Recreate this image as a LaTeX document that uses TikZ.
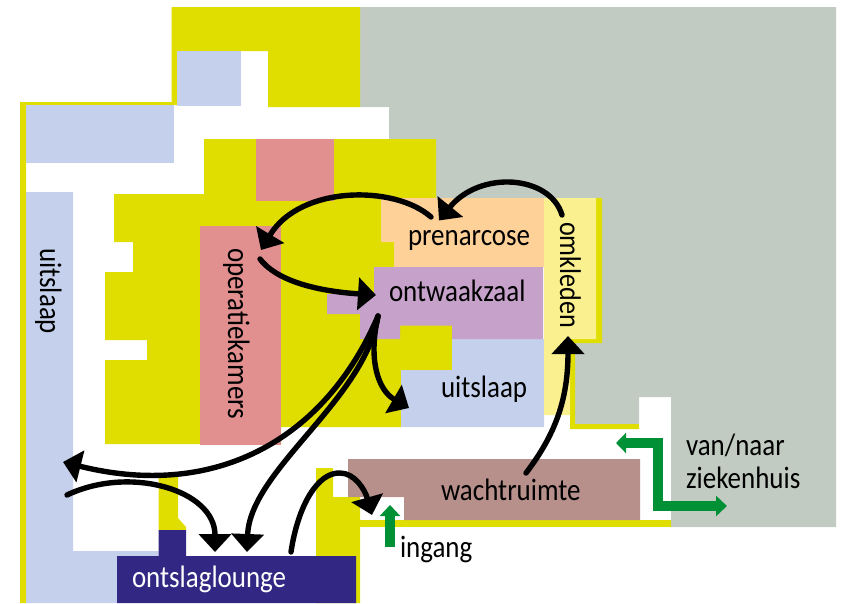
\documentclass[tikz,border=0pt]{standalone}
\usepackage{fontspec}
\setmainfont[FakeStretch=0.87]{Carlito}
\usetikzlibrary{arrows.meta}
\definecolor{yel}{HTML}{E0DE00}
\definecolor{grayz}{HTML}{C1CBC2}
\definecolor{lblue}{HTML}{C5D1EC}
\definecolor{rosered}{HTML}{E18F8F}
\definecolor{peach}{HTML}{FDD198}
\definecolor{purp}{HTML}{C6A2CB}
\definecolor{lyel}{HTML}{FAF08F}
\definecolor{brownz}{HTML}{B78F8B}
\definecolor{navyz}{HTML}{322783}
\definecolor{greenz}{HTML}{009036}
\tikzset{
  lab/.style={anchor=base west,inner sep=0pt,outer sep=0pt,font=\fontsize{31}{31}\selectfont,text=black},
  vlab/.style={lab,rotate=-90},
  flow/.style={draw=black,line width=5.4pt,line cap=round,-{Triangle[length=18pt,width=32pt]}},
  gflow/.style={draw=greenz,line width=10pt,miter limit=10}
}
\begin{document}
\begin{tikzpicture}[x=1pt,y=-1pt]
\useasboundingbox (0,0) rectangle (845,603);
% grey zone
\fill[grayz] (360,7)--(836,7)--(836,527)--(671,527)--(671,397)--(639,397)--(639,424)--(575,424)--(575,343)--(602,343)--(602,198)--(436,198)--(436,139)--(389,139)--(389,107)--(360,107)--cycle;
% yellow zones
\fill[yel] (171.5,7)--(360,7)--(360,107)--(268,107)--(268,51)--(177,51)--(177,105)--(26,105)--(26,603)--(20,603)--(20,102)--(171.5,102)--cycle;
\fill[yel] (204,139)--(436,139)--(436,300)--(452,300)--(452,370)--(401,370)--(401,427)--(281,427)--(281,444)--(105,444)--(105,360)--(147,360)--(147,340)--(105,340)--(105,272)--(133,272)--(133,242)--(114,242)--(114,194)--(204,194)--cycle;
\fill[yel] (316,468)--(333,468)--(333,497)--(360,497)--(360,603)--(316,603)--cycle;
\fill[yel] (360,520) rectangle (671,527);
\fill[yel] (158.5,475)--(178,475)--(178,518)--(186,527)--(186,530)--(158.5,530)--cycle;
\fill[yel] (596,198)--(602,198)--(602,343)--(575,343)--(575,424)--(639,424)--(639,429)--(570,429)--(570,339)--(596,339)--cycle;
% rooms
\fill[lblue] (177,51) rectangle (241,106);
\fill[lblue] (26,105) rectangle (174,163);
\fill[lblue] (26,192)--(73,192)--(73,551)--(158.5,551)--(158.5,556)--(117,556)--(117,603)--(26,603)--cycle;
\fill[lblue] (401,370)--(452,370)--(452,339)--(544,339)--(544,427)--(401,427)--cycle;
\fill[rosered] (256,139) rectangle (334,201);
\fill[rosered] (200,226) rectangle (281,445);
\fill[peach] (381,198)--(544,198)--(544,267)--(394,267)--(394,242)--(381,242)--cycle;
\fill[purp] (374,267)--(543,267)--(543,339)--(452,339)--(452,325.7)--(400,325.7)--(400,339)--(360,339)--(360,314)--(327,314)--(327,294)--(374,294)--cycle;
\fill[lyel] (544,198)--(596,198)--(596,339)--(570,339)--(570,415)--(544,415)--cycle;
\fill[brownz] (348,459)--(640,459)--(640,520)--(404,520)--(404,497)--(348,497)--cycle;
\fill[navyz] (117,556)--(158.5,556)--(158.5,530)--(186,530)--(186,556)--(356,556)--(356,603)--(117,603)--cycle;
% labels
\node[vlab] (uitslaapL) at (40,248) {uitslaap};
\node[vlab] (opkamers) at (228,248) {operatiekamers};
\node[vlab,font=\fontsize{30}{30}\selectfont] (omkleden) at (560,222) {omkleden};
\node[lab] (prenarcose) at (408,245) {prenarcose};
\node[lab] (ontwaak) at (389,301) {ontwaakzaal};
\node[lab] (uitslaapR) at (441,397) {uitslaap};
\node[lab] (wacht) at (441,500) {wachtruimte};
\node[lab,text=white] (lounge) at (132,587) {ontslaglounge};
\node[lab] (ingang) at (400,557) {ingang};
\node[lab] (vannaar) at (686,455) {van/naar};
\node[lab] (zieken) at (686,488) {ziekenhuis};
% connector ends
\coordinate (omkOut) at (562,215);
\coordinate (preIn) at (439,220.5);
\coordinate (preOut) at (431,217);
\coordinate (opIn) at (261,250);
\coordinate (opOut) at (260,259);
\coordinate (ontIn) at (376,295);
\coordinate (ontOut) at (378,316);
\coordinate (uitRIn) at (409,408);
\coordinate (uitLIn) at (63,462);
\coordinate (uitLOut) at (67,495);
\coordinate (louA) at (215,552);
\coordinate (louB) at (247,552);
\coordinate (louOut) at (291,552);
\coordinate (top) at (340,473);
\coordinate (entr) at (372,515);
\coordinate (wachtOut) at (526,473);
\coordinate (omkIn) at (568,336);
\coordinate (ingS) at (390,547);
\coordinate (ingT) at (390,505);
\coordinate (hospA) at (616,443);
\coordinate (hospB) at (727,506);
% black arrows
\draw[flow] (omkOut) .. controls (550,175) and (480,170) .. (preIn);
\draw[flow] (preOut) .. controls (395,185) and (300,185) .. (opIn);
\draw[flow] (opOut) .. controls (280,285) and (330,292) .. (ontIn);
\draw[flow] (ontOut) .. controls (325,440) and (215,500) .. (uitLIn);
\draw[flow] (ontOut) .. controls (365,400) and (250,470) .. (louB);
\draw[flow] (ontOut) .. controls (368,360) and (378,390) .. (uitRIn);
\draw[flow] (uitLOut) .. controls (130,465) and (215,490) .. (louA);
\draw[flow] (louOut) .. controls (298,505) and (318,472) .. (top) .. controls (355,473) and (365,490) .. (entr);
\draw[flow] (wachtOut) .. controls (555,435) and (568,400) .. (omkIn);
% green arrows
\draw[gflow,-{Triangle[length=11pt,width=20pt]}] (ingS) -- (ingT);
\draw[gflow,{Triangle[length=10pt,width=20pt]}-{Triangle[length=11pt,width=20pt]}] (hospA) -| (657.7,506) -- (hospB);
\end{tikzpicture}
\end{document}
